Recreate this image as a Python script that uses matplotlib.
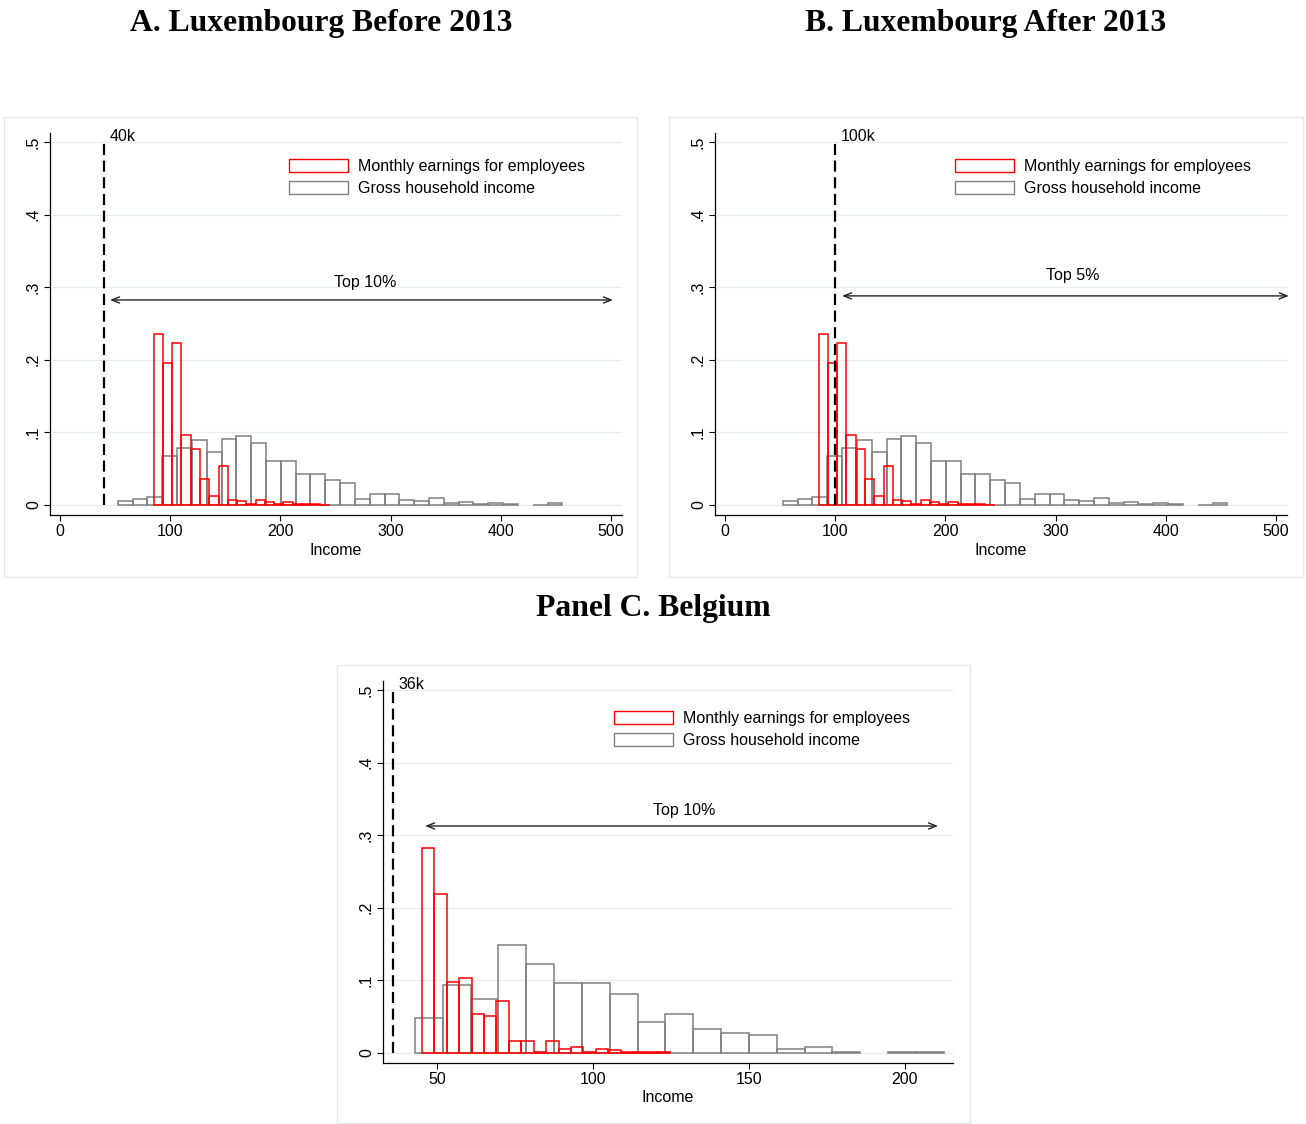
import numpy as np
import matplotlib
matplotlib.use("Agg")
import matplotlib.pyplot as plt
from matplotlib.patches import Rectangle, Patch

# ---------------- data ----------------
# Luxembourg (same distributions in panels A and B), fractions per bin
lux_gray_start = 52.4
lux_gray_width = 13.45
lux_gray_heights = [0.005, 0.008, 0.0106, 0.068, 0.079, 0.089, 0.0725, 0.091,
                    0.0955, 0.086, 0.061, 0.061, 0.0425, 0.0425, 0.034, 0.030,
                    0.0087, 0.015, 0.015, 0.0073, 0.0055, 0.010, 0.0023, 0.0037,
                    0.001, 0.0028, 0.0018, 0.0, 0.0005, 0.0023]
lux_red_start = 85.0
lux_red_width = 8.41
lux_red_heights = [0.2355, 0.195, 0.2227, 0.0969, 0.0776, 0.0354, 0.0129, 0.0537,
                   0.0069, 0.005, 0.0014, 0.0069, 0.0035, 0.002, 0.004, 0.0012,
                   0.0012, 0.0012, 0.0006]

# Belgium
bel_gray_start = 42.95
bel_gray_width = 8.92
bel_gray_heights = [0.0482, 0.0937, 0.0748, 0.149, 0.1226, 0.096, 0.096, 0.081,
                    0.043, 0.054, 0.0326, 0.0275, 0.0243, 0.0055, 0.0087, 0.001,
                    0.0, 0.001, 0.001]
bel_red_start = 45.19
bel_red_width = 3.98
bel_red_heights = [0.2828, 0.2195, 0.0978, 0.1037, 0.0537, 0.0505, 0.0716, 0.0165,
                   0.0165, 0.001, 0.0165, 0.0055, 0.0083, 0.001, 0.006, 0.0035,
                   0.001, 0.001, 0.001, 0.001]

series_labels = ["Monthly earnings for employees", "Gross household income"]
titles = ["A. Luxembourg Before 2013", "B. Luxembourg After 2013", "Panel C. Belgium"]
thresholds = [40, 100, 36]
threshold_labels = ["40k", "100k", "36k"]
arrow_labels = ["Top 10%", "Top 5%", "Top 10%"]
arrow_spans = [(45.4, 501.8), (106.2, 511.6), (46.2, 210.6)]
arrow_y = [0.2824, 0.288, 0.3127]
arrow_text_xy = [(276.8, 0.307), (315.8, 0.3166), (129.2, 0.3345)]
lux_xticks = [0, 100, 200, 300, 400, 500]
bel_xticks = [50, 100, 150, 200]
yticks = [0, 0.1, 0.2, 0.3, 0.4, 0.5]
ytick_labels = ["0", ".1", ".2", ".3", ".4", ".5"]

# ---------------- figure ----------------
W, H = 1306, 1124
fig = plt.figure(figsize=(W / 100, H / 100), dpi=100)
fig.patch.set_facecolor("white")
SANS = ["Liberation Sans", "DejaVu Sans"]
SERIF = ["Liberation Serif", "DejaVu Serif"]
FS = 11.5
GRAY = "#808080"
RED = "#ff0000"
GRID = "#e6eef0"


def px_axes(left, top, right, bottom):
    return fig.add_axes([left / W, 1 - bottom / H, (right - left) / W, (bottom - top) / H])


def frame(x0, y0, x1, y1):
    fig.patches.append(Rectangle((x0 / W, 1 - y1 / H), (x1 - x0) / W, (y1 - y0) / H,
                                 transform=fig.transFigure, fill=False,
                                 ec="#e3eaec", lw=1.0, zorder=0))


def bars(ax, start, width, heights, color, z):
    h = np.asarray(heights, dtype=float)
    left = start + width * np.arange(len(h))
    m = h > 0
    ax.bar(left[m], h[m], width=width, align="edge", fill=False,
           edgecolor=color, linewidth=1.1, zorder=z)


def panel(ax, idx, gray, red, xlim, xticks, leg_xy):
    ax.set_xlim(*xlim)
    ax.set_ylim(-0.0138, 0.5124)
    for y in yticks:
        ax.axhline(y, color=GRID, lw=1.0, zorder=0)
    bars(ax, *gray, GRAY, 2)
    bars(ax, *red, RED, 3)
    t = thresholds[idx]
    ax.plot([t, t], [0, 0.5], color="black", lw=1.6, ls=(0, (5, 2.5)), zorder=4)
    ax.text(t + (xlim[1] - xlim[0]) * 0.0095, 0.502, threshold_labels[idx],
            fontsize=FS, family=SANS, ha="left", va="baseline")
    a0, a1 = arrow_spans[idx]
    ax.annotate("", xy=(a1, arrow_y[idx]), xytext=(a0, arrow_y[idx]),
                annotation_clip=False,
                arrowprops=dict(arrowstyle="<->,head_length=0.55,head_width=0.22",
                                lw=1.0, color="#222222", shrinkA=0, shrinkB=0))
    tx, ty = arrow_text_xy[idx]
    ax.text(tx, ty, arrow_labels[idx], fontsize=FS, family=SANS, ha="center", va="center")

    for s in ["top", "right"]:
        ax.spines[s].set_visible(False)
    for s in ["left", "bottom"]:
        ax.spines[s].set_linewidth(0.9)
    ax.set_xticks(xticks)
    ax.set_xticklabels([str(v) for v in xticks], fontsize=FS, family=SANS)
    ax.set_yticks(yticks)
    ax.set_yticklabels(ytick_labels, fontsize=FS, family=SANS, rotation=90, va="center")
    ax.tick_params(direction="out", length=4, width=0.8, pad=2.5)
    ax.set_xlabel("Income", fontsize=FS, family=SANS, labelpad=2.5)

    handles = [Patch(facecolor="white", edgecolor=RED, lw=1.0),
               Patch(facecolor="white", edgecolor=GRAY, lw=1.0)]
    ax.legend(handles, series_labels, loc="upper left", bbox_to_anchor=leg_xy,
              frameon=False, borderpad=0, borderaxespad=0, handlelength=3.7,
              handleheight=0.85, handletextpad=0.6, labelspacing=0.44,
              prop=dict(family=SANS, size=FS))


# Panel frames
frame(4, 117, 637, 577)
frame(669, 117, 1303, 577)
frame(337, 665, 970, 1123)

axA = px_axes(50, 133, 622, 515)
panel(axA, 0, (lux_gray_start, lux_gray_width, lux_gray_heights),
      (lux_red_start, lux_red_width, lux_red_heights), (-9.1, 510), lux_xticks,
      (0.4178, 0.9324))

axB = px_axes(715, 133, 1287, 515)
panel(axB, 1, (lux_gray_start, lux_gray_width, lux_gray_heights),
      (lux_red_start, lux_red_width, lux_red_heights), (-9.1, 510), lux_xticks,
      (0.4196, 0.9324))

axC = px_axes(383, 681, 953, 1063)
panel(axC, 2, (bel_gray_start, bel_gray_width, bel_gray_heights),
      (bel_red_start, bel_red_width, bel_red_heights), (32.7, 215.4), bel_xticks,
      (0.405, 0.9219))

# Titles
for (x, y), t in zip([(321, 23), (986, 23), (653, 609)], titles):
    fig.text(x / W, 1 - y / H, t, fontsize=22.8, family=SERIF, weight="bold",
             ha="center", va="center")

fig.savefig("out.png", dpi=100)
